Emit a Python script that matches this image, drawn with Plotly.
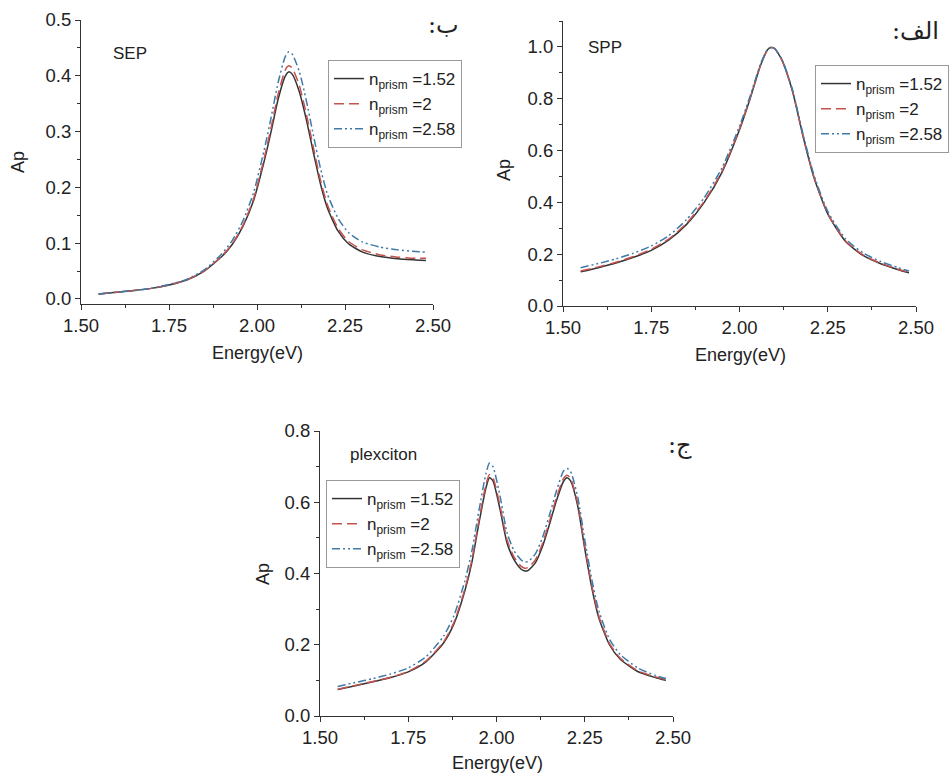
import plotly.graph_objects as go

W, H = 952, 773

# ---------------- data ----------------
series_names = ["n<sub>prism</sub> =1.52", "n<sub>prism</sub> =2", "n<sub>prism</sub> =2.58"]

x_sep = [1.55, 1.60, 1.65, 1.70, 1.75, 1.80, 1.85, 1.90, 1.93, 1.96, 1.99, 2.02, 2.04, 2.06,
         2.08, 2.09, 2.10, 2.12, 2.14, 2.16, 2.18, 2.20, 2.23, 2.26, 2.30, 2.35, 2.40, 2.45, 2.48]
sep_152 = [0.009, 0.012, 0.015, 0.019, 0.025, 0.034, 0.050, 0.076, 0.098, 0.130, 0.176, 0.246, 0.300, 0.358,
           0.399, 0.407, 0.403, 0.372, 0.322, 0.263, 0.207, 0.163, 0.122, 0.099, 0.084, 0.076, 0.072, 0.070, 0.069]
sep_2 = [0.009, 0.012, 0.015, 0.019, 0.025, 0.034, 0.050, 0.077, 0.099, 0.132, 0.179, 0.251, 0.307, 0.367,
         0.410, 0.418, 0.414, 0.383, 0.332, 0.272, 0.214, 0.169, 0.127, 0.103, 0.088, 0.079, 0.075, 0.073, 0.073]
sep_258 = [0.009, 0.012, 0.015, 0.019, 0.026, 0.035, 0.052, 0.081, 0.105, 0.140, 0.190, 0.266, 0.325, 0.388,
           0.434, 0.443, 0.439, 0.408, 0.356, 0.294, 0.235, 0.188, 0.145, 0.119, 0.102, 0.093, 0.088, 0.085, 0.084]

x_spp = [1.55, 1.60, 1.65, 1.70, 1.75, 1.80, 1.85, 1.90, 1.95, 2.00, 2.03, 2.06, 2.08, 2.09, 2.10,
         2.12, 2.15, 2.18, 2.21, 2.25, 2.30, 2.35, 2.40, 2.45, 2.48]
spp_152 = [0.132, 0.148, 0.166, 0.188, 0.215, 0.255, 0.315, 0.400, 0.515, 0.680, 0.800, 0.930, 0.990, 0.998, 0.993,
           0.950, 0.830, 0.655, 0.500, 0.355, 0.250, 0.195, 0.163, 0.140, 0.128]
spp_2 = [0.135, 0.151, 0.169, 0.191, 0.219, 0.259, 0.319, 0.404, 0.519, 0.683, 0.802, 0.931, 0.990, 0.998, 0.993,
         0.950, 0.831, 0.657, 0.502, 0.357, 0.252, 0.197, 0.165, 0.142, 0.130]
spp_258 = [0.148, 0.164, 0.182, 0.204, 0.232, 0.272, 0.333, 0.418, 0.532, 0.694, 0.810, 0.936, 0.992, 0.999, 0.994,
           0.952, 0.835, 0.663, 0.509, 0.365, 0.260, 0.205, 0.172, 0.148, 0.135]

x_plx = [1.55, 1.60, 1.65, 1.70, 1.75, 1.80, 1.85, 1.88, 1.91, 1.93, 1.95, 1.97, 1.98, 1.99, 2.01, 2.03,
         2.05, 2.07, 2.08, 2.09, 2.11, 2.13, 2.15, 2.17, 2.19, 2.20, 2.21, 2.23, 2.25, 2.27, 2.29, 2.32,
         2.35, 2.40, 2.45, 2.48]
plx_152 = [0.074, 0.085, 0.096, 0.108, 0.124, 0.152, 0.205, 0.260, 0.350, 0.430, 0.540, 0.640, 0.669, 0.660,
           0.580, 0.485, 0.438, 0.412, 0.407, 0.409, 0.430, 0.475, 0.538, 0.605, 0.659, 0.669, 0.660, 0.590,
           0.470, 0.360, 0.275, 0.200, 0.160, 0.125, 0.108, 0.100]
plx_2 = [0.075, 0.086, 0.097, 0.109, 0.125, 0.154, 0.208, 0.264, 0.355, 0.437, 0.548, 0.649, 0.678, 0.669,
         0.590, 0.494, 0.446, 0.420, 0.415, 0.417, 0.438, 0.483, 0.546, 0.613, 0.667, 0.676, 0.667, 0.597,
         0.477, 0.366, 0.280, 0.204, 0.163, 0.127, 0.110, 0.102]
plx_258 = [0.083, 0.094, 0.105, 0.118, 0.135, 0.166, 0.224, 0.283, 0.378, 0.462, 0.575, 0.680, 0.710, 0.700,
           0.617, 0.514, 0.463, 0.438, 0.432, 0.434, 0.455, 0.500, 0.564, 0.632, 0.688, 0.695, 0.686, 0.615,
           0.495, 0.383, 0.295, 0.216, 0.173, 0.135, 0.114, 0.105]

x_ticks = [1.50, 1.75, 2.00, 2.25, 2.50]
x_ticktext = ["1.50", "1.75", "2.00", "2.25", "2.50"]

# ---------------- styles ----------------
colors = ["#333333", "#c4524e", "#3f7aa8"]
dashes = ["solid", "10px,5px", "8px,3px,2px,3px,2px,3px"]
FONT = "Liberation Sans, Arial, sans-serif"
AFONT = "DejaVu Serif, DejaVu Sans, serif"
RLM = "\u200f"


def px_x(p):
    return p / W


def px_y(p):
    return 1 - p / H


fig = go.Figure()

panels = [
    dict(x=x_sep, ys=[sep_152, sep_2, sep_258], xa="x", ya="y", legend="legend"),
    dict(x=x_spp, ys=[spp_152, spp_2, spp_258], xa="x2", ya="y2", legend="legend2"),
    dict(x=x_plx, ys=[plx_152, plx_2, plx_258], xa="x3", ya="y3", legend="legend3"),
]

for p in panels:
    for name, yv, c, d in zip(series_names, p["ys"], colors, dashes):
        fig.add_trace(go.Scatter(
            x=p["x"], y=yv, mode="lines", name=name,
            line=dict(color=c, width=1.5, dash=d, shape="spline", smoothing=0.6),
            xaxis=p["xa"], yaxis=p["ya"], legend=p["legend"],
        ))

axis_common = dict(
    showline=True, linecolor="#333333", linewidth=1.2, showgrid=False, zeroline=False,
    ticks="outside", ticklen=5, tickwidth=1, tickcolor="#333333",
    tickfont=dict(family=FONT, size=18.5, color="#222222"), mirror=False, automargin=False,
)

xcommon = dict(axis_common, range=[1.5, 2.5], tickvals=x_ticks, ticktext=x_ticktext,
               minor=dict(ticks="outside", ticklen=3, dtick=0.125, tick0=1.5, tickcolor="#333333"))

# panel geometry in pixels: (left, right, top, bottom)
g1 = (81, 433, 20, 304)
g2 = (563, 916, 21, 306)
g3 = (320, 673, 431, 716)

fig.update_layout(
    width=W, height=H, margin=dict(l=0, r=0, t=0, b=0, autoexpand=False),
    paper_bgcolor="white", plot_bgcolor="white",
    font=dict(family=FONT, color="#222222"),
    xaxis=dict(xcommon, domain=[px_x(g1[0]), px_x(g1[1])], anchor="y"),
    yaxis=dict(axis_common, domain=[px_y(g1[3]), px_y(g1[2])], anchor="x", range=[-0.009, 0.5],
               dtick=0.1, tick0=0, tickformat=".1f",
               minor=dict(ticks="outside", ticklen=3, dtick=0.05, tick0=0, tickcolor="#333333")),
    xaxis2=dict(xcommon, domain=[px_x(g2[0]), px_x(g2[1])], anchor="y2"),
    yaxis2=dict(axis_common, domain=[px_y(g2[3]), px_y(g2[2])], anchor="x2", range=[0, 1.1],
                dtick=0.2, tick0=0, tickformat=".1f",
                minor=dict(ticks="outside", ticklen=3, dtick=0.1, tick0=0, tickcolor="#333333")),
    xaxis3=dict(xcommon, domain=[px_x(g3[0]), px_x(g3[1])], anchor="y3"),
    yaxis3=dict(axis_common, domain=[px_y(g3[3]), px_y(g3[2])], anchor="x3", range=[0, 0.8],
                dtick=0.2, tick0=0, tickformat=".1f",
                minor=dict(ticks="outside", ticklen=3, dtick=0.1, tick0=0, tickcolor="#333333")),
)

legend_common = dict(bgcolor="white", bordercolor="#999999", borderwidth=1,
                     font=dict(family=FONT, size=17, color="#222222"),
                     xanchor="left", yanchor="top", tracegroupgap=0)
fig.update_layout(
    legend=dict(legend_common, x=px_x(328), y=px_y(60)),
    legend2=dict(legend_common, x=px_x(815), y=px_y(65)),
    legend3=dict(legend_common, x=px_x(326), y=px_y(480)),
)

annots = [
    ("SEP", 130, 53, 0, 17, FONT),
    ("SPP", 605, 47, 0, 17, FONT),
    ("plexciton", 383, 455, 0, 17, FONT),
    (RLM + "ب:" + RLM, 443, 25, 0, 24, AFONT),
    (RLM + "الف:" + RLM, 915, 31, 0, 24, AFONT),
    (RLM + "ج:" + RLM, 680, 445, 0, 24, AFONT),
    ("Ap", 18, 162, -90, 18, FONT),
    ("Ap", 504, 170, -90, 18, FONT),
    ("Ap", 263, 574, -90, 18, FONT),
    ("Energy(eV)", 257, 353, 0, 18, FONT),
    ("Energy(eV)", 740, 355, 0, 18, FONT),
    ("Energy(eV)", 497, 763, 0, 18, FONT),
]
for text, ax, ay, ang, size, fam in annots:
    fig.add_annotation(text=text, x=px_x(ax), y=px_y(ay), xref="paper", yref="paper",
                       showarrow=False, textangle=ang, xanchor="center", yanchor="middle",
                       font=dict(family=fam, size=size, color="#222222"))

fig.write_html("out.html")
